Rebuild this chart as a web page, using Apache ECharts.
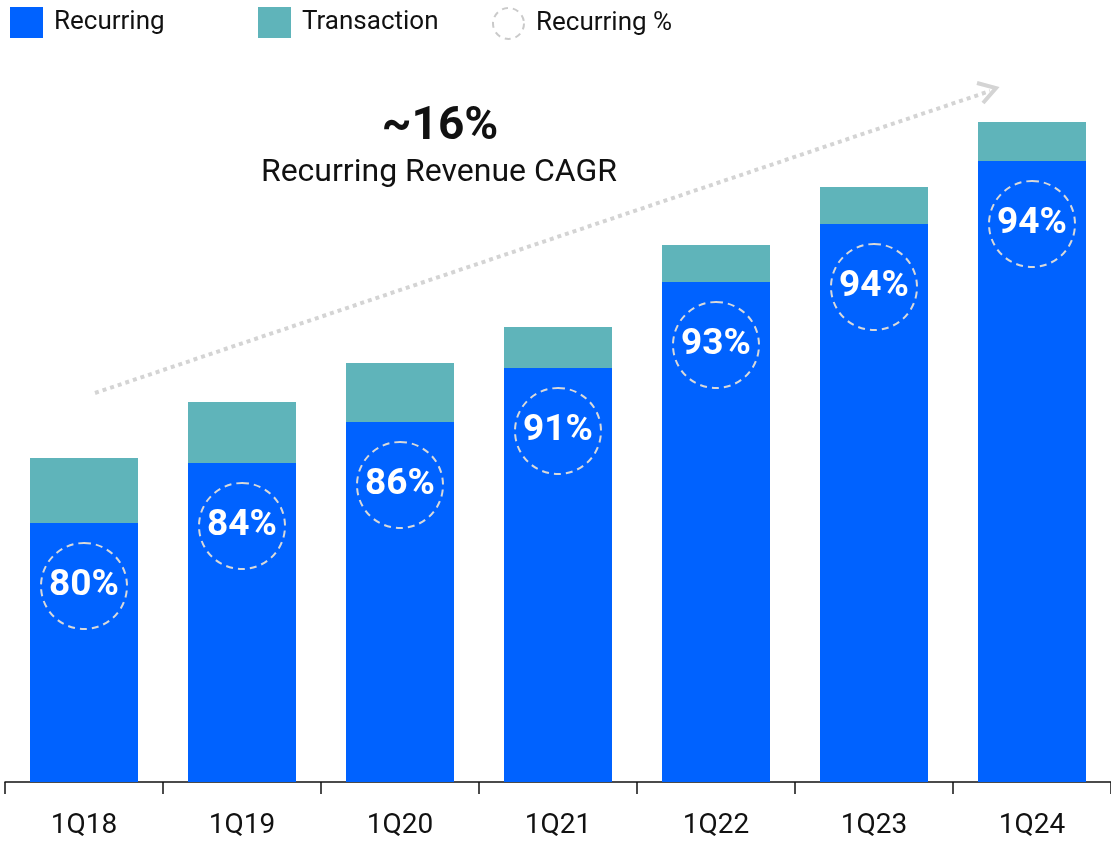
<!DOCTYPE html>
<html>
<head>
<meta charset="utf-8">
<script src="https://cdn.jsdelivr.net/npm/echarts@6/dist/echarts.min.js"></script>
<style>
  html, body { margin: 0; padding: 0; background: #fff; }
  #chart { width: 1111px; height: 843px; }
</style>
</head>
<body>
<div id="chart"></div>
<script>
// quarters and bar heights (arbitrary units)
const quarters = ["1Q18", "1Q19", "1Q20", "1Q21", "1Q22", "1Q23", "1Q24"];
const recurring = [259, 319, 360, 414, 500, 558, 621];
const transaction = [65, 61, 59, 41, 37, 37, 39];
const recurringPct = ["80%", "84%", "86%", "91%", "93%", "94%", "94%"];

const font = "Roboto, 'Liberation Sans', sans-serif";
let chart = echarts.init(document.getElementById("chart"));

const legendBase = {
  top: 2,
  itemWidth: 33,
  itemHeight: 31,
  textStyle: { fontSize: 26, color: "#111", fontFamily: font, padding: [0, 0, 0, 6] },
  selectedMode: false,
};

let option = {
  backgroundColor: "#fff",
  animation: false,
  legend: [
    Object.assign({}, legendBase, { left: 5, data: [{ name: "Recurring", icon: "rect" }] }),
    Object.assign({}, legendBase, { left: 253, data: [{ name: "Transaction", icon: "rect" }] }),
    Object.assign({}, legendBase, {
      left: 487,
      data: [{
        name: "Recurring %",
        icon: "circle",
        itemStyle: { color: "#fff", borderColor: "#bdbdbd", borderWidth: 2, borderType: [6, 5] },
      }],
    }),
  ],
  grid: { left: 5, right: 0, top: 82, bottom: 61 },
  xAxis: {
    type: "category",
    data: quarters,
    axisLine: { lineStyle: { color: "#111", width: 1.5 } },
    axisTick: { show: true, length: 12, lineStyle: { color: "#111", width: 1.5 } },
    axisLabel: { fontSize: 28, color: "#111", fontFamily: font, margin: 30 },
  },
  yAxis: {
    type: "value",
    min: 0,
    max: 700,
    show: false,
    splitLine: { show: false },
  },
  graphic: [
    {
      type: "text",
      x: 440,
      y: 104,
      style: { text: "~16%", font: "bold 46px " + font, fill: "#111", align: "center" },
    },
    {
      type: "text",
      x: 439,
      y: 157,
      style: { text: "Recurring Revenue CAGR", font: "32px " + font, fill: "#111", align: "center" },
    },
    {
      type: "polyline",
      shape: { points: [[95, 393], [990, 91]] },
      style: { stroke: "#d4d4d4", lineWidth: 4, lineDash: [4, 4], fill: null },
      z: 0,
    },
    {
      type: "polyline",
      shape: { points: [[977, 83], [996, 88], [983, 103]] },
      style: { stroke: "#d4d4d4", lineWidth: 4, fill: null },
      z: 0,
    },
  ],
  series: [
    {
      name: "Recurring",
      type: "bar",
      stack: "rev",
      barWidth: 108,
      itemStyle: { color: "#0062ff" },
      data: recurring,
      label: {
        show: true,
        position: "insideTop",
        distance: 20,
        formatter: (p) => "{c|" + recurringPct[p.dataIndex] + "}",
        rich: {
          c: {
            width: 86,
            height: 86,
            lineHeight: 86,
            align: "center",
            borderRadius: 43,
            borderWidth: 2,
            borderColor: "#d9d9d9",
            borderType: [7, 5],
            color: "#fff",
            fontSize: 37,
            fontWeight: "bold",
            fontFamily: font,
          },
        },
      },
    },
    {
      name: "Transaction",
      type: "bar",
      stack: "rev",
      barWidth: 108,
      itemStyle: { color: "#5fb4ba" },
      data: transaction,
    },
    {
      name: "Recurring %",
      type: "scatter",
      data: [],
    },
  ],
};

chart.setOption(option);
</script>
</body>
</html>
